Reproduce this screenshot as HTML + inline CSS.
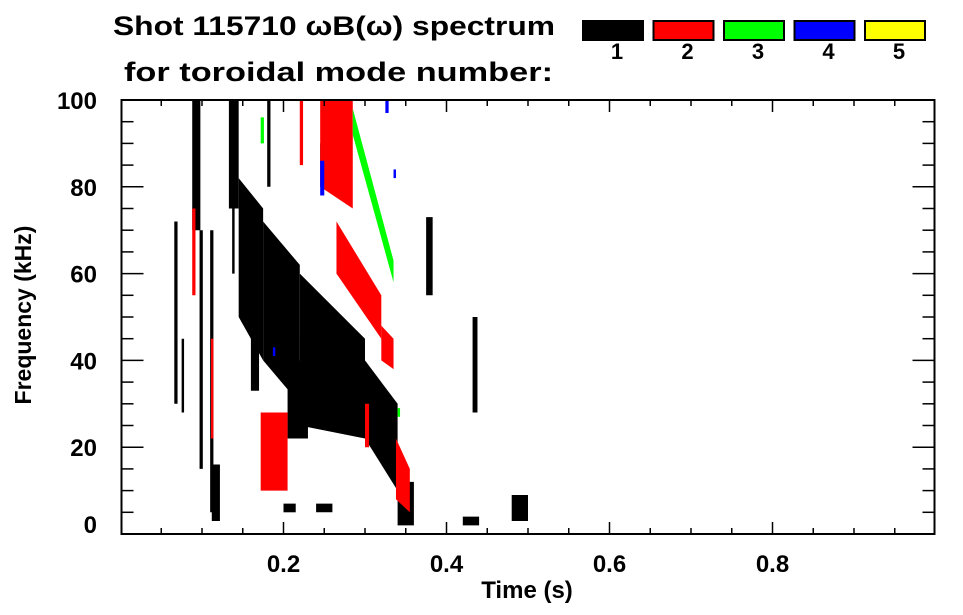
<!DOCTYPE html>
<html><head><meta charset="utf-8">
<style>
html,body{margin:0;padding:0;background:#fff;}
svg{display:block;font-family:"Liberation Sans",sans-serif;font-weight:bold;}
</style></head>
<body>
<svg id="chart" width="963" height="615" viewBox="0 0 963 615" xmlns="http://www.w3.org/2000/svg">
<text x="113" y="35" font-size="27" textLength="442" lengthAdjust="spacingAndGlyphs">Shot 115710 ωB(ω) spectrum</text>
<text x="124" y="81" font-size="27" textLength="429" lengthAdjust="spacingAndGlyphs">for toroidal mode number:</text>
<g id="legend"></g>
<g id="marks"></g>
<g id="axes"></g>
<text x="527" y="598" font-size="24" text-anchor="middle">Time (s)</text>
<text transform="translate(31,315) rotate(-90)" font-size="23" text-anchor="middle">Frequency (kHz)</text>
</svg>
<script>
// ---- data ----
const modeLabels = ["1","2","3","4","5"];
const modeColors = ["#000000","#ff0000","#00ff00","#0000ff","#ffff00"];
const xTicks = [0.2,0.4,0.6,0.8];
const yTicks = [0,20,40,60,80,100];
// blobs: [mode, t0, t1, fLo0, fHi0, fLo1, fHi1]
const blobMode = [];
const blobT0 = [], blobT1 = [], blobLo0 = [], blobHi0 = [], blobLo1 = [], blobHi1 = [];
const blobs = [
 [1,.066,.070,30,72,30,72],[1,.075,.078,28,45,28,45],
 [1,.088,.098,70,100,70,100],[1,.097,.101,15,70,15,70],
 [1,.110,.114,5,70,5,70],[1,.112,.122,3,16,3,16],
 [1,.133,.145,75,100,75,100],[1,.137,.140,60,80,60,80],
 [1,.145,.175,50,82,40,75],[1,.175,.220,40,72,30,62],
 [1,.160,.170,33,50,33,50],[1,.205,.230,22,40,22,40],
 [1,.220,.300,25,60,22,45],[1,.300,.340,22,40,10,30],
 [1,.340,.360,2,12,2,12],[1,.375,.383,55,73,55,73],
 [1,.432,.438,28,50,28,50],[1,.480,.500,3,9,3,9],
 [1,.420,.440,2,4,2,4],[1,.200,.215,5,7,5,7],[1,.240,.260,5,7,5,7],
 [1,.180,.184,80,100,80,100],[1,.245,.250,80,90,80,90],
 [2,.172,.205,10,28,10,28],[2,.245,.285,80,100,75,100],
 [2,.265,.320,60,72,45,55],[2,.320,.335,40,48,38,45],
 [2,.088,.092,55,75,55,75],[2,.111,.114,22,45,22,45],
 [2,.338,.355,8,22,5,15],[2,.220,.224,85,100,85,100],
 [2,.300,.305,20,30,20,30],
 [3,.285,.335,92,98,58,63],[3,.172,.176,90,96,90,96],[3,.340,.343,27,29,27,29],
 [4,.245,.250,78,86,78,86],[4,.187,.190,41,43,41,43],[4,.335,.338,82,84,82,84],[4,.325,.329,97,100,97,100]
];
blobs.forEach(b=>{blobMode.push(b[0]);blobT0.push(b[1]);blobT1.push(b[2]);blobLo0.push(b[3]);blobHi0.push(b[4]);blobLo1.push(b[5]);blobHi1.push(b[6]);});

// ---- scales ----
const X0=120.5, XW=815, Y0=534, YH=434;
const xs = t => X0 + t*XW;
const ys = f => Y0 - f/100*YH;
const NS="http://www.w3.org/2000/svg";
function mk(tag, attrs, parent){const e=document.createElementNS(NS,tag);for(const k in attrs)e.setAttribute(k,attrs[k]);parent.appendChild(e);return e;}

// marks
const marks=document.getElementById('marks');
for(let i=0;i<blobMode.length;i++){
  const x0=xs(blobT0[i]), x1=xs(blobT1[i]);
  const pts=`${x0},${ys(blobHi0[i])} ${x1},${ys(blobHi1[i])} ${x1},${ys(blobLo1[i])} ${x0},${ys(blobLo0[i])}`;
  const p=mk('polygon',{points:pts,fill:modeColors[blobMode[i]-1]},marks);
  
  
}

// axes
const axes=document.getElementById('axes');
const frame=mk('rect',{x:121.5,y:100,width:813,height:434,fill:'none',stroke:'#000','stroke-width':2},axes);


for(let k=1;k<20;k++){
  const t=k*0.05, x=xs(t), major=(k%4===0);
  const len=major?12:6;
  mk('line',{x1:x,x2:x,y1:534,y2:534-len,stroke:'#000','stroke-width':1.5},axes);
  mk('line',{x1:x,x2:x,y1:100,y2:100+len,stroke:'#000','stroke-width':1.5},axes);
}
for(let k=1;k<20;k++){
  const f=k*5, y=ys(f), major=(k%4===0);
  const len=major?22:12;
  mk('line',{x1:121.5,x2:121.5+len,y1:y,y2:y,stroke:'#000','stroke-width':1.5},axes);
  mk('line',{x1:934.5,x2:934.5-len,y1:y,y2:y,stroke:'#000','stroke-width':1.5},axes);
}
xTicks.forEach(t=>{
  const e=mk('text',{x:xs(t),y:572,'font-size':24,'text-anchor':'middle'},axes);
  e.textContent=t.toFixed(1);
  
  
});
yTicks.forEach(f=>{
  const y=f===0?ys(f)-10:ys(f);
  const e=mk('text',{x:97,y:y+9,'font-size':24,'text-anchor':'end'},axes);
  e.textContent=String(f);
  
  
});

// legend
const lg=document.getElementById('legend');
modeLabels.forEach((lab,i)=>{
  const x=582+i*70.5;
  const r=mk('rect',{x:x+1,y:21,width:60,height:19,fill:modeColors[i],stroke:'#000','stroke-width':2},lg);
  
  
  const t=mk('text',{x:x+35,y:59,'font-size':22,'text-anchor':'middle'},lg);
  t.textContent=lab;
  
  
});
</script>
</body></html>
